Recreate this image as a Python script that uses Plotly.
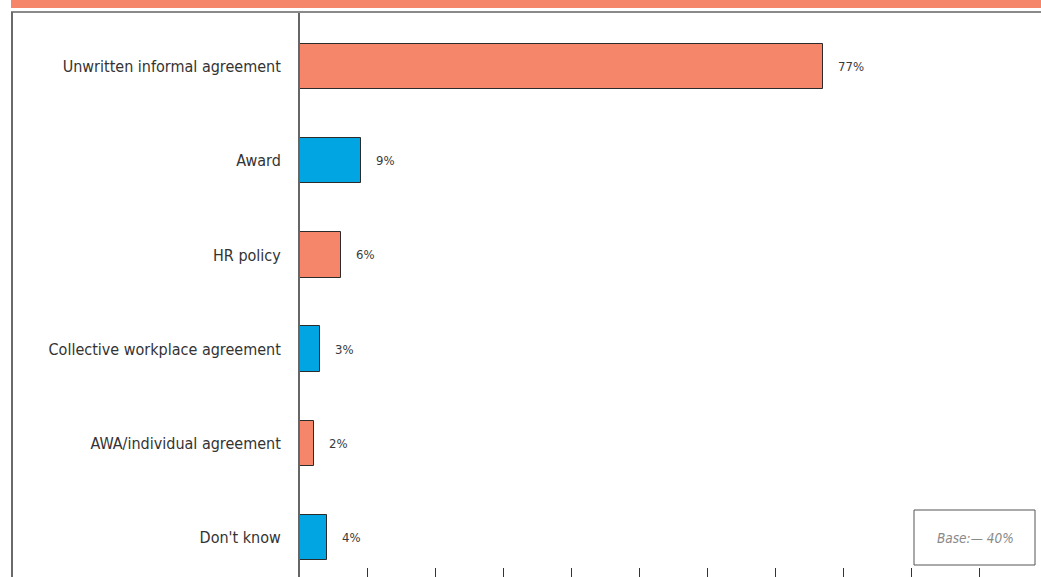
import plotly.graph_objects as go

# Agreement types and share of respondents (%)
categories = [
    "Unwritten informal agreement",
    "Award",
    "HR policy",
    "Collective workplace agreement",
    "AWA/individual agreement",
    "Don't know",
]
values = [77, 9, 6, 3, 2, 4]
value_labels = ["77%", "9%", "6%", "3%", "2%", "4%"]
tick_values = [0, 10, 20, 30, 40, 50, 60, 70, 80, 90, 100]
base_note = "Base:— 40%"

SALMON = "#F5866A"
BLUE = "#00A5E2"
bar_colors = [SALMON if i % 2 == 0 else BLUE for i in range(len(categories))]

W, H = 1041, 577
FONT = "DejaVu Sans Condensed, Liberation Sans Narrow, sans-serif"


def px_x(p):
    return p / W


def px_y(p):
    return 1 - p / H


fig = go.Figure()
fig.add_trace(
    go.Bar(
        x=values,
        y=categories,
        orientation="h",
        width=0.48,
        marker=dict(color=bar_colors, line=dict(color="#2b2b2b", width=1)),
        hoverinfo="skip",
    )
)

# value labels to the right of each bar
for cat, v, lab in zip(categories, values, value_labels):
    fig.add_annotation(
        x=v, y=cat, xref="x", yref="y",
        text=lab, showarrow=False,
        xanchor="left", yanchor="middle", xshift=13,
        font=dict(family=FONT, size=13, color="#3a3a3a"),
    )

# header band and frame
fig.add_shape(type="rect", xref="paper", yref="paper",
              x0=px_x(11), x1=1, y0=px_y(8), y1=1,
              fillcolor=SALMON, line=dict(width=0), layer="above")
fig.add_shape(type="line", xref="paper", yref="paper",
              x0=px_x(11), x1=1, y0=px_y(12), y1=px_y(12),
              line=dict(color="#8a8a8a", width=2), layer="above")
fig.add_shape(type="line", xref="paper", yref="paper",
              x0=px_x(12), x1=px_x(12), y0=0, y1=px_y(12),
              line=dict(color="#6a6a6a", width=2), layer="above")

# base note box
fig.add_shape(type="rect", xref="paper", yref="paper",
              x0=px_x(914), x1=px_x(1035), y0=px_y(565), y1=px_y(510),
              fillcolor="white", line=dict(color="#555555", width=1), layer="above")
fig.add_annotation(
    x=px_x(975.5), y=px_y(537.5), xref="paper", yref="paper",
    text=base_note, showarrow=False, xanchor="center", yanchor="middle",
    font=dict(family=FONT, size=13.5, color="#8a8a8a", style="italic"),
)

# pixel geometry of the plot area
x0_px, px_per_unit = 300, 6.79
y_top_px, first_center_px, step_px = 12, 66.5, 94.2

fig.update_layout(
    width=W, height=H,
    margin=dict(l=0, r=0, t=0, b=0),
    paper_bgcolor="white", plot_bgcolor="white",
    showlegend=False,
    bargap=0,
    xaxis=dict(
        domain=[x0_px / W, 1],
        range=[0, (W - x0_px) / px_per_unit],
        tickvals=tick_values,
        showticklabels=False,
        ticks="inside", ticklen=9, tickwidth=1, tickcolor="#333333",
        showgrid=False, zeroline=False, showline=False,
    ),
    yaxis=dict(
        domain=[0, (H - y_top_px) / H],
        type="category",
        categoryorder="array", categoryarray=categories,
        range=[(H - first_center_px) / step_px, (y_top_px - first_center_px) / step_px],
        showline=True, linecolor="#666666", linewidth=2,
        showgrid=False, zeroline=False, ticks="",
        ticklabelstandoff=14,
        tickfont=dict(family=FONT, size=16, color="#333333"),
    ),
)

fig.write_html("out.html")
